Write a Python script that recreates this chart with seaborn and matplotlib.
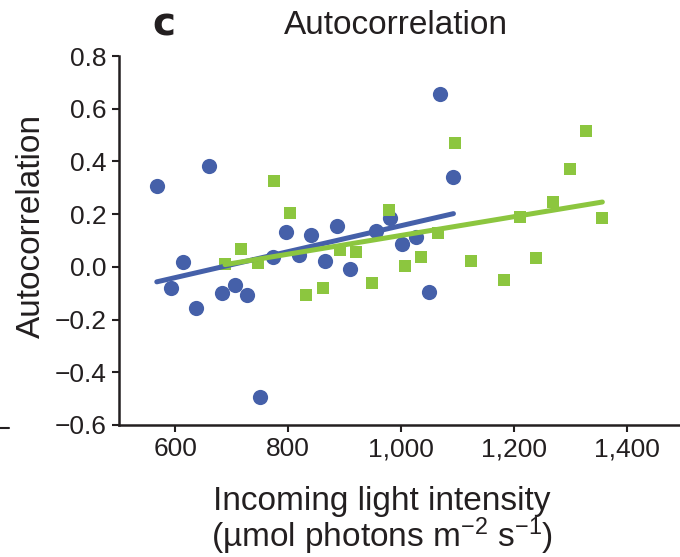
import numpy as np
import pandas as pd
import matplotlib.pyplot as plt
import seaborn as sns
from matplotlib.lines import Line2D

# Values
blue_light = [567, 592, 613, 636, 659, 683, 706, 727, 750, 773, 796, 819,
              841, 866, 887, 910, 956, 980, 1001, 1026, 1049, 1070, 1093]
blue_autocorr = [0.306, -0.080, 0.020, -0.156, 0.381, -0.101, -0.070, -0.108,
                 -0.492, 0.038, 0.134, 0.044, 0.120, 0.021, 0.156, -0.009,
                 0.137, 0.186, 0.086, 0.112, -0.096, 0.655, 0.340]

green_light = [688, 716, 746, 774, 804, 832, 861, 891, 920, 949, 978, 1007,
               1036, 1066, 1095, 1124, 1182, 1211, 1240, 1270, 1299, 1328, 1357]
green_autocorr = [0.009, 0.068, 0.014, 0.326, 0.206, -0.105, -0.082, 0.065,
                  0.057, -0.062, 0.216, 0.004, 0.039, 0.130, 0.469, 0.024,
                  -0.049, 0.191, 0.034, 0.247, 0.373, 0.515, 0.186]

x_ticks = [600, 800, 1000, 1200, 1400]
x_tick_labels = ['600', '800', '1,000', '1,200', '1,400']
y_ticks = [0.8, 0.6, 0.4, 0.2, 0.0, -0.2, -0.4, -0.6]
y_tick_labels = ['0.8', '0.6', '0.4', '0.2', '0.0', '\u22120.2', '\u22120.4', '\u22120.6']

blue = '#4560a9'
green = '#8cc63f'
ink = '#231f20'

blue_df = pd.DataFrame({'light': blue_light, 'ac': blue_autocorr})
green_df = pd.DataFrame({'light': green_light, 'ac': green_autocorr})

sns.set_style('ticks')
plt.rcParams['font.family'] = ['Liberation Sans', 'DejaVu Sans']
plt.rcParams['mathtext.fontset'] = 'custom'
plt.rcParams['mathtext.rm'] = 'Liberation Sans'
plt.rcParams['mathtext.it'] = 'Liberation Sans'

fig = plt.figure(figsize=(6.8, 5.57), dpi=100)
# x axis spans 500-1500, its right end just past the image edge
ax = fig.add_axes([119 / 680, 1 - 425 / 557, 564 / 680, (425 - 56) / 557])

sns.regplot(data=blue_df, x='light', y='ac', ax=ax, ci=None, color=blue,
            scatter_kws={'s': 120, 'marker': 'o', 'alpha': 1, 'linewidths': 0},
            line_kws={'lw': 3.6, 'solid_capstyle': 'round'})
sns.regplot(data=green_df, x='light', y='ac', ax=ax, ci=None, color=green,
            marker='s',
            scatter_kws={'s': 72, 'alpha': 1, 'linewidths': 0},
            line_kws={'lw': 3.6, 'solid_capstyle': 'round'})

ax.set_xlim(500, 1500)
ax.set_ylim(-0.6, 0.8)
ax.set_xticks(x_ticks)
ax.set_xticklabels(x_tick_labels)
ax.set_yticks(y_ticks)
ax.set_yticklabels(y_tick_labels)
ax.tick_params(axis='both', labelsize=19, length=5, width=1.5, pad=4,
               direction='out', colors=ink)

sns.despine(ax=ax)
for side in ['left', 'bottom']:
    ax.spines[side].set_linewidth(1.8)
    ax.spines[side].set_color(ink)

ax.set_ylabel('Autocorrelation', fontsize=24, color=ink)
ax.yaxis.set_label_coords(-0.128, 0.54)
ax.set_xlabel('Incoming light intensity\n(\u00b5mol photons m$^{-2}$ s$^{-1}$)',
              fontsize=24, color=ink, linespacing=0.95)
ax.xaxis.set_label_coords(0.466, -0.165)

fig.text(396 / 680, 1 - 25 / 557, 'Autocorrelation', fontsize=24,
         ha='center', va='center', color=ink)
fig.text(164 / 680, 1 - 24 / 557, 'c', fontsize=28, fontweight='heavy',
         family='DejaVu Sans', ha='center', va='center', color=ink)

# small stray tick left of the panel
fig.add_artist(Line2D([0, 9 / 680], [1 - 428 / 557, 1 - 428 / 557],
                      color=ink, lw=1.5))

fig.savefig('out.png', dpi=100)
